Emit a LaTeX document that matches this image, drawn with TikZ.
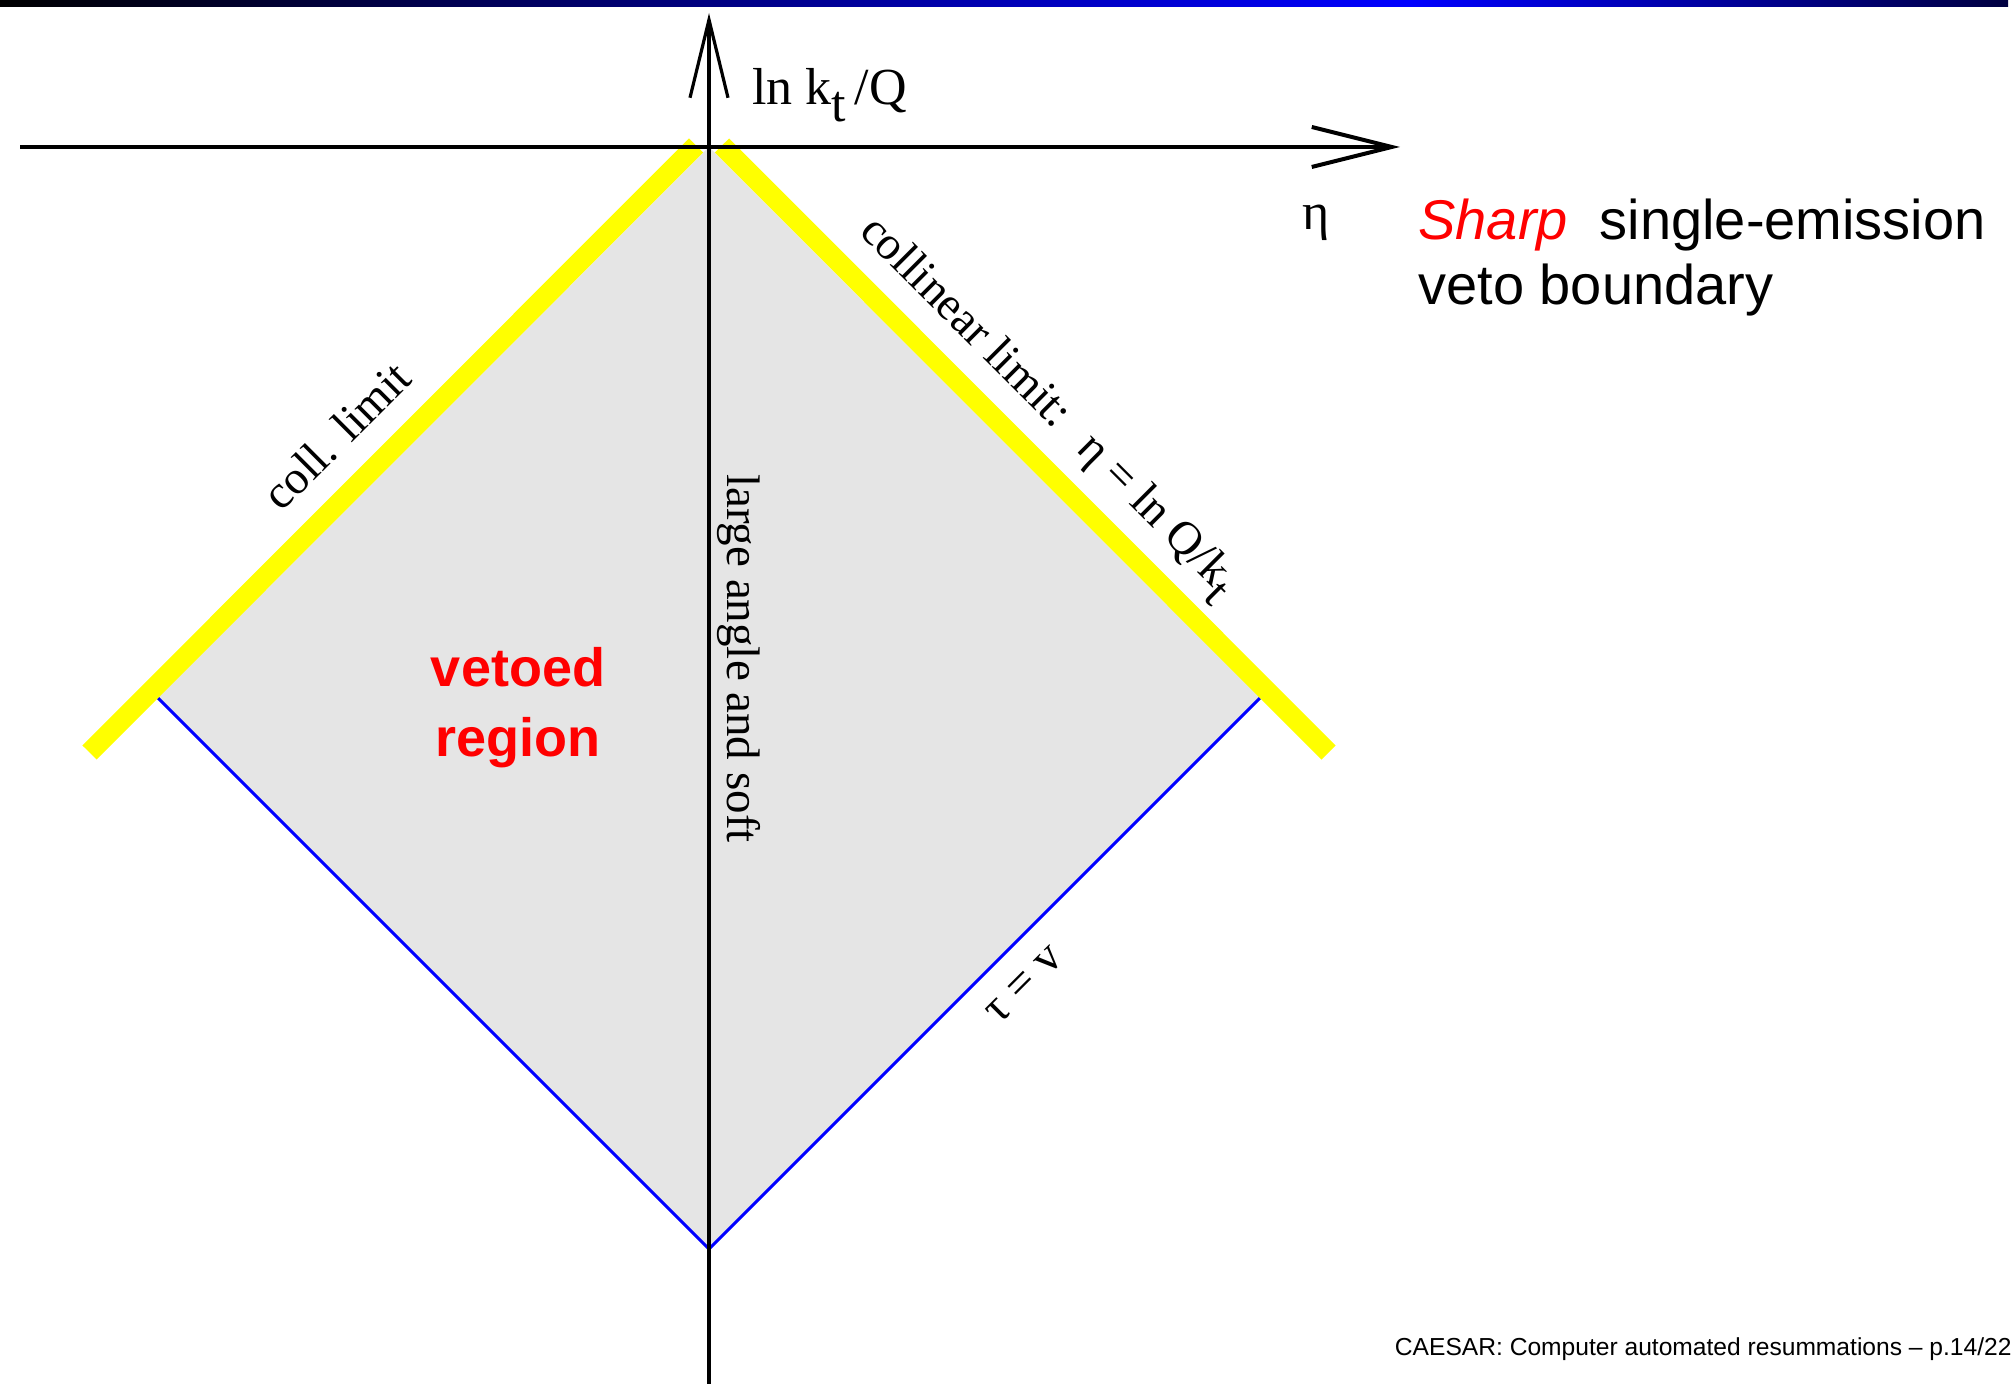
\documentclass[tikz,border=0pt]{standalone}
\usepackage{fontspec}
\setmainfont{Liberation Serif}
\newfontfamily\sansf{Liberation Sans}
\usetikzlibrary{arrows.meta}
\newcommand{\lowt}{\raisebox{-0.32em}{t}}
\begin{document}
\begin{tikzpicture}[x=0.5pt,y=-0.5pt,
  vetogrey/.style={fill={rgb,255:red,229;green,229;blue,229}},
  softline/.style={draw={rgb,255:red,0;green,0;blue,255},line width=1.5pt,line join=miter},
  colline/.style={draw={rgb,255:red,255;green,255;blue,0},line width=10pt,line cap=butt},
  axisline/.style={draw=black},
  serifbig/.style={inner sep=0pt,font=\fontsize{26pt}{30pt}\selectfont},
  serifmid/.style={inner sep=0pt,font=\fontsize{23.5pt}{27pt}\selectfont},
  sanstext/.style={inner sep=0pt,font=\sansf\fontsize{28pt}{32.5pt}\selectfont},
  vetotext/.style={inner sep=0pt,text=red,font=\sansf\bfseries\fontsize{27pt}{35pt}\selectfont},
  foottext/.style={inner sep=0pt,font=\sansf\fontsize{12.3pt}{14pt}\selectfont}]
\useasboundingbox (0,0) rectangle (2015,1384);
% top bar
\shade[left color=black, right color={rgb,255:red,0;green,0;blue,255}] (0,0) rectangle (1408,7);
\shade[left color={rgb,255:red,0;green,0;blue,255}, right color=blue!25!black] (1408,0) rectangle (2008,7);
% diamond
\coordinate (top) at (709,147);
\coordinate (left) at (158,698);
\coordinate (bot) at (709,1249);
\coordinate (right) at (1260,698);
\fill[vetogrey] (top) -- (left) -- (bot) -- (right) -- cycle;
\draw[softline] (left) -- (bot) -- (right);
% collinear limits
\coordinate (yl1) at (89.5,752.5);
\coordinate (yl2) at (696,145.5);
\coordinate (yr1) at (722,145.5);
\coordinate (yr2) at (1328.5,752.5);
\draw[colline] (yl1) -- (yl2);
\draw[colline] (yr1) -- (yr2);
% axes
\coordinate (hstart) at (20,147);
\coordinate (htip) at (1400,147);
\coordinate (vstart) at (709,1384);
\coordinate (vtip) at (709,13);
\draw[axisline,line width=2pt,-{Straight Barb[length=40pt,width=20pt]}] (hstart) -- (htip);
\draw[axisline,line width=1.6pt,-{Straight Barb[length=39pt,width=19pt]}] (vstart) -- (vtip);
% labels
\node[serifbig,anchor=base west] (ylab) at (752,105) {ln k\lowt\,/Q};
\node[serifbig,anchor=base] (xlab) at (1316,230) {η};
\node[sanstext,anchor=base west,align=left] (sharp) at (1418,305) {\textcolor{red}{\itshape Sharp}\hspace{16pt}single-emission\\veto boundary};
\node[vetotext,anchor=base,align=center] (veto) at (518,757) {vetoed\\region};
\node[serifmid,rotate=-90,anchor=base] (soft) at (727,658.5) {large angle and soft};
\node[serifmid,rotate=45,anchor=base] (coll) at (348,447) {coll. limit};
\node[serifmid,rotate=-45,anchor=base] (colr) at (1040,415) {collinear limit:\hspace{15pt}η = ln Q/k\lowt};
\node[serifmid,rotate=45,anchor=center] (tauv) at (1025,985) {τ = v};
\node[foottext,anchor=base east] (foot) at (2012,1355) {CAESAR: Computer automated resummations – p.14/22};
\end{tikzpicture}
\end{document}
